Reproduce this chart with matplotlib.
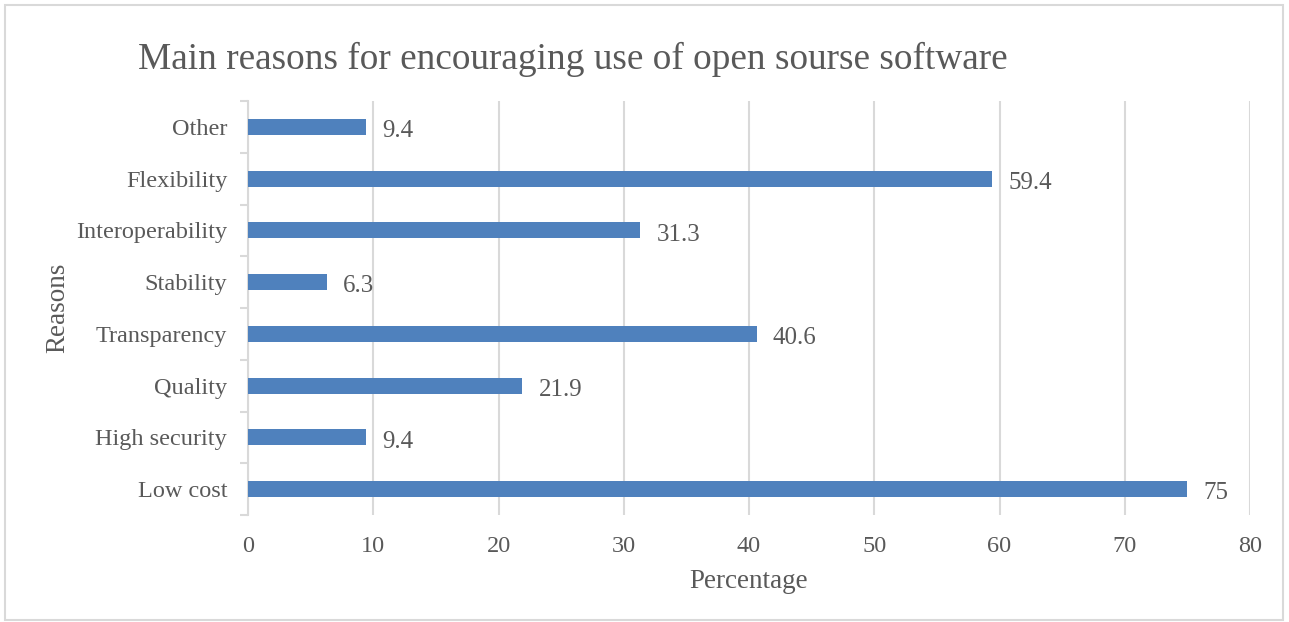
import matplotlib.pyplot as plt
from matplotlib.patches import Rectangle

# Data (bottom to top)
reasons = ['Low cost', 'High security', 'Quality', 'Transparency',
           'Stability', 'Interoperability', 'Flexibility', 'Other']
percent = [75, 9.4, 21.9, 40.6, 6.3, 31.3, 59.4, 9.4]
labels = ['75', '9.4', '21.9', '40.6', '6.3', '31.3', '59.4', '9.4']
xticks = [0, 10, 20, 30, 40, 50, 60, 70, 80]

plt.rcParams['font.family'] = ['Liberation Serif', 'DejaVu Serif']
text_col = '#595959'
grid_col = '#D9D9D9'
bar_col = '#4F81BD'

fig = plt.figure(figsize=(12.89, 6.22), dpi=100)
ax = fig.add_axes([248 / 1289, 1 - 515 / 622, (1250 - 248) / 1289, 414 / 622])

y = list(range(len(reasons)))
ax.barh(y, percent, height=0.31, color=bar_col, zorder=3)

for yi, v, lab in zip(y, percent, labels):
    ax.text(v + 1.3, yi - 0.2, lab, va='baseline', ha='left', fontsize=18, color=text_col)

ax.set_xlim(0, 80)
ax.set_ylim(-0.5, len(reasons) - 0.5)
ax.set_xticks(xticks)
ax.set_yticks(y)
ax.set_yticklabels(reasons)
ax.tick_params(axis='x', length=0, labelsize=17.5, labelcolor=text_col, pad=15)
ax.tick_params(axis='y', length=0, labelsize=17.5, labelcolor=text_col, pad=15)

# category boundary tick marks on the y axis
ax.set_yticks([i - 0.5 for i in range(len(reasons) + 1)], minor=True)
ax.tick_params(axis='y', which='minor', length=6, color=grid_col, width=1.5)

ax.xaxis.grid(True, color=grid_col, linewidth=1.5, zorder=0)
for s in ['top', 'right', 'bottom']:
    ax.spines[s].set_visible(False)
ax.spines['left'].set_color(grid_col)
ax.spines['left'].set_linewidth(1.5)

ax.set_xlabel('Percentage', fontsize=19.5, color=text_col, labelpad=9)
ax.set_ylabel('Reasons', fontsize=19.5, color=text_col, labelpad=4)

fig.text(138 / 1289, 1 - 59 / 622, 'Main reasons for encouraging use of open sourse software',
         fontsize=26.8, color=text_col, ha='left', va='center')

# outer chart border
fig.patches.append(Rectangle((5 / 1289, 2 / 622), 1278 / 1289, 615 / 622,
                             transform=fig.transFigure, fill=False,
                             edgecolor=grid_col, linewidth=1.5))

fig.savefig('out.png', dpi=100)
